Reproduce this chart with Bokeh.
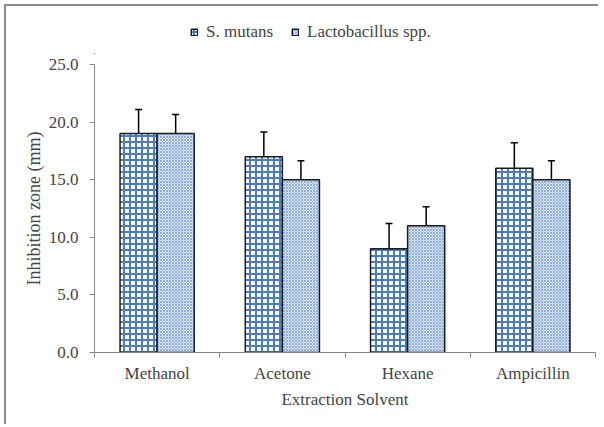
import numpy as np
from bokeh.plotting import figure
from bokeh.layouts import column
from bokeh.models import (ColumnDataSource, Range1d, FixedTicker, NumeralTickFormatter,
                          Whisker, TeeHead, Legend, LegendItem)
from bokeh.embed import file_html
from bokeh.resources import INLINE

# ---- data ----
solvents = ["Methanol", "Acetone", "Hexane", "Ampicillin"]
s_mutans = [19.0, 17.0, 9.0, 16.0]
s_mutans_err = [2.1, 2.15, 2.2, 2.2]
lacto = [19.0, 15.0, 11.0, 15.0]
lacto_err = [1.65, 1.65, 1.65, 1.65]
y_ticks = [0, 5, 10, 15, 20, 25]
series_names = ["S. mutans", "Lactobacillus spp."]

FONT = "Liberation Serif"
AX = "#868686"

# layout (pixels)
W = 592
TOP_H = 48                 # legend strip above the plot
MAIN_H = 370
MAIN_TOP = 10
FRAME_BOTTOM = 72

SM_STYLE = dict(fill_color="white", line_color="#1a1a1a", line_width=1.5,
                hatch_pattern="cross", hatch_color="#4A7CC4", hatch_scale=6, hatch_weight=2)
LA_STYLE = dict(fill_color="#DCE6F4", line_color="#1a1a1a", line_width=1.5,
                hatch_pattern="diagonal_cross", hatch_color="#8FAEDD", hatch_scale=3,
                hatch_weight=1)

centers = np.arange(len(solvents)) + 0.5
bw = 0.296
x_sm = centers - bw / 2
x_la = centers + bw / 2

src_sm = ColumnDataSource(dict(x=x_sm, top=s_mutans,
                               lower=np.array(s_mutans) - np.array(s_mutans_err),
                               upper=np.array(s_mutans) + np.array(s_mutans_err)))
src_la = ColumnDataSource(dict(x=x_la, top=lacto,
                               lower=np.array(lacto) - np.array(lacto_err),
                               upper=np.array(lacto) + np.array(lacto_err)))

# ---------- main plot ----------
p = figure(width=W, height=MAIN_H, output_backend="svg", toolbar_location=None,
           x_range=Range1d(0, len(solvents)), y_range=Range1d(0, max(y_ticks)),
           min_border_left=88, min_border_right=3, min_border_top=MAIN_TOP,
           min_border_bottom=FRAME_BOTTOM)
p.outline_line_color = None
p.grid.grid_line_color = None
p.background_fill_color = "white"
p.border_fill_color = "white"

p.vbar(x="x", top="top", width=bw, source=src_sm, **SM_STYLE)
p.vbar(x="x", top="top", width=bw, source=src_la, **LA_STYLE)

for src in (src_sm, src_la):
    w = Whisker(base="x", lower="lower", upper="upper", source=src,
                line_color="black", line_width=1.5,
                upper_head=TeeHead(size=7, line_color="black", line_width=1.5),
                lower_head=TeeHead(size=7, line_color="black", line_width=1.5))
    p.add_layout(w)

ya = p.yaxis[0]
ya.ticker = FixedTicker(ticks=y_ticks)
ya.formatter = NumeralTickFormatter(format="0.0")
ya.axis_label = "Inhibition zone (mm)"
ya.axis_label_text_font = FONT
ya.axis_label_text_font_style = "normal"
ya.axis_label_text_font_size = "18px"
ya.axis_label_standoff = 2
ya.major_label_text_font = FONT
ya.major_label_text_font_size = "17px"
ya.major_label_standoff = 11
ya.major_tick_out = 5
ya.major_tick_in = 0
ya.minor_tick_line_color = None
ya.axis_line_color = AX
ya.major_tick_line_color = AX

xa = p.xaxis[0]
xa.ticker = FixedTicker(ticks=list(centers), minor_ticks=list(range(len(solvents) + 1)))
xa.major_label_overrides = {float(c): s for c, s in zip(centers, solvents)}
xa.axis_label = "Extraction Solvent"
xa.axis_label_text_font = FONT
xa.axis_label_text_font_style = "normal"
xa.axis_label_text_font_size = "17px"
xa.axis_label_standoff = 4
xa.major_label_text_font = FONT
xa.major_label_text_font_size = "17px"
xa.major_label_standoff = 6
xa.major_tick_line_color = None
xa.major_tick_out = 0
xa.major_tick_in = 0
xa.minor_tick_out = 5
xa.minor_tick_in = 0
xa.minor_tick_line_color = AX
xa.axis_line_color = AX

# ---------- legend strip (same series, bars kept out of its view) ----------
lg = figure(width=W, height=TOP_H, output_backend="svg", toolbar_location=None,
            x_range=Range1d(100, 101), y_range=Range1d(100, 101),
            min_border_left=0, min_border_right=0, min_border_top=0, min_border_bottom=0)
lg.axis.visible = False
lg.grid.grid_line_color = None
lg.outline_line_color = None
lg.background_fill_color = "white"
lg.border_fill_color = "white"
l1 = lg.vbar(x="x", top="top", width=bw, source=src_sm, **SM_STYLE)
l2 = lg.vbar(x="x", top="top", width=bw, source=src_la, **LA_STYLE)
legend = Legend(items=[LegendItem(label=series_names[0], renderers=[l1]),
                       LegendItem(label=series_names[1], renderers=[l2])],
                orientation="horizontal", location=(96, TOP_H - 36),
                glyph_width=8, glyph_height=8, label_standoff=8, spacing=18,
                padding=0, margin=0, border_line_color=None, background_fill_alpha=0,
                label_text_font=FONT, label_text_font_size="17px", label_height=18)
lg.add_layout(legend, "center")

layout = column(lg, p, spacing=0,
                styles={"border-left": "2px solid #8a8a8a", "border-top": "2px solid #8a8a8a",
                        "margin-left": "4px", "margin-top": "4px"})

open("out.html", "w").write(file_html(layout, INLINE))
